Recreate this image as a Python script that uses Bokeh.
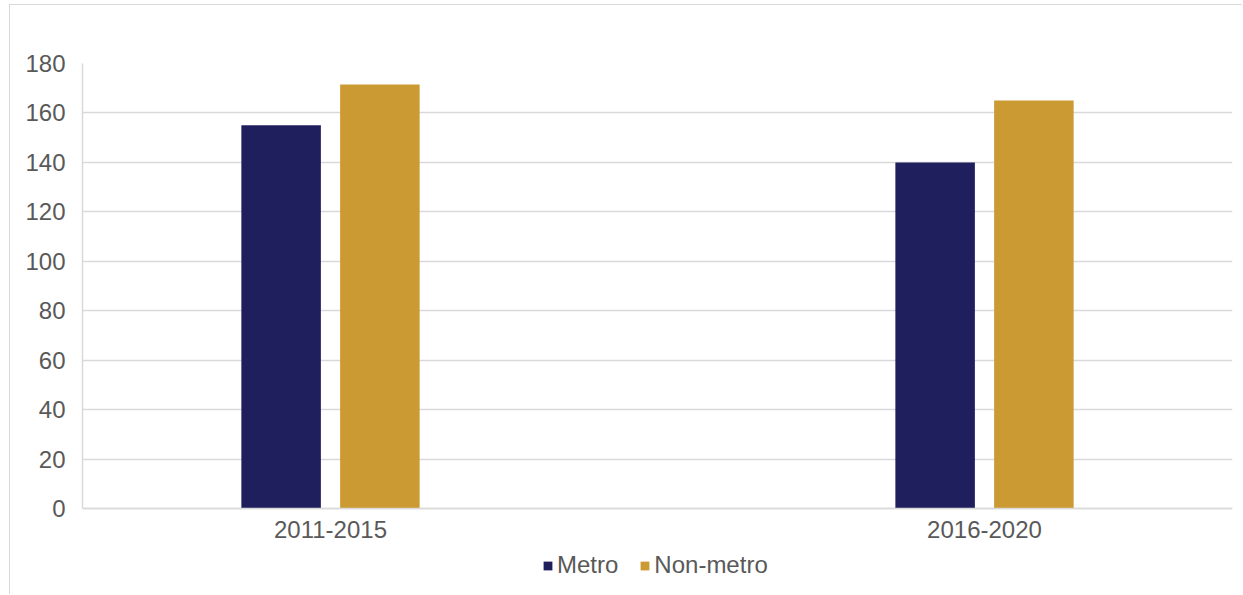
from bokeh.plotting import figure
from bokeh.models import Range1d, FixedTicker, Legend, LegendItem, ColumnDataSource
from bokeh.transform import dodge
from bokeh.embed import file_html
from bokeh.resources import INLINE

categories = ["2011-2015", "2016-2020"]
metro = [155, 140]
non_metro = [171.5, 165]
y_ticks = [0, 20, 40, 60, 80, 100, 120, 140, 160, 180]

NAVY = "#201F5E"
GOLD = "#CC9A32"
GRID = "#D9D9D9"
LABEL = "#595959"
FONT = "Liberation Sans"

src = ColumnDataSource(dict(x=list(range(len(categories))), metro=metro, non_metro=non_metro))

# frame: 445px for 0..180, extended 87px below zero to hold labels + legend
y_bottom = -180 * 87 / 445
p = figure(width=1233, height=590, output_backend="svg", toolbar_location=None,
           x_range=Range1d(-0.3792, 1.3792), y_range=Range1d(y_bottom, 180),
           min_border_left=72, min_border_right=11, min_border_top=58, min_border_bottom=0)
p.styles = {"border-top": "1px solid #D9D9D9", "border-left": "1px solid #D9D9D9",
            "margin-left": "9px", "margin-top": "4px"}
p.outline_line_color = None
p.background_fill_color = "white"
p.border_fill_color = "white"

r1 = p.vbar(x=dodge("x", -0.0755, range=p.x_range), top="metro", width=0.1216,
            source=src, fill_color=NAVY, line_color=None)
r2 = p.vbar(x=dodge("x", 0.0755, range=p.x_range), top="non_metro", width=0.1216,
            source=src, fill_color=GOLD, line_color=None)

p.xaxis.ticker = FixedTicker(ticks=list(range(len(categories))))
p.xaxis.major_label_overrides = {i: c for i, c in enumerate(categories)}
p.xaxis.fixed_location = 0
p.yaxis.ticker = FixedTicker(ticks=y_ticks)
p.yaxis.bounds = (0, 180)
p.xgrid.grid_line_color = None
p.ygrid.grid_line_color = GRID
p.ygrid.grid_line_width = 1.5

for ax in (p.xaxis, p.yaxis):
    ax.axis_line_color = GRID
    ax.axis_line_width = 1.5
    ax.major_tick_line_color = None
    ax.minor_tick_line_color = None
    ax.major_label_text_font = FONT
    ax.major_label_text_font_size = "24px"
    ax.major_label_text_color = LABEL
p.xaxis.major_label_standoff = 6
p.yaxis.major_label_standoff = 11

legend = Legend(items=[LegendItem(label="Metro", renderers=[r1]),
                       LegendItem(label="Non-metro", renderers=[r2])],
                orientation="horizontal", location=(460, 16),
                glyph_width=11, glyph_height=11, label_standoff=4, spacing=21,
                padding=0, margin=0, border_line_color=None, background_fill_alpha=0,
                label_text_font=FONT, label_text_font_size="24px", label_text_color=LABEL)
p.add_layout(legend, "center")

open("out.html", "w").write(file_html(p, INLINE))
